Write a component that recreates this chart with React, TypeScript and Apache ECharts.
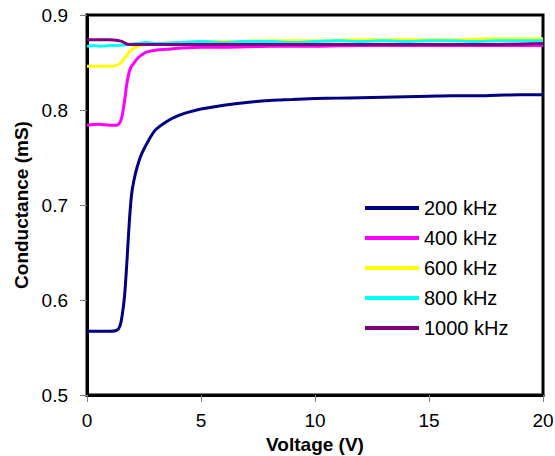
import React, { useEffect, useRef } from "react";
import * as echarts from "echarts";

const seriesNames = ["200 kHz", "400 kHz", "600 kHz", "800 kHz", "1000 kHz"];
const seriesColors = ["#000080", "#FF00FF", "#FFFF00", "#00FFFF", "#800080"];

const x200 = [0, 0.5, 1.0, 1.3, 1.45, 1.55, 1.65, 1.75, 1.85, 1.95, 2.05, 2.2, 2.4, 2.7, 3.0, 3.5, 4, 4.5, 5, 6, 7, 8, 9, 10, 11, 12, 13, 14, 15, 16, 17, 18, 19, 20];
const y200 = [0.567, 0.567, 0.567, 0.568, 0.573, 0.585, 0.605, 0.64, 0.68, 0.71, 0.725, 0.74, 0.754, 0.768, 0.779, 0.788, 0.794, 0.798, 0.801, 0.805, 0.808, 0.81, 0.811, 0.812, 0.8125, 0.813, 0.8135, 0.814, 0.8145, 0.815, 0.815, 0.8155, 0.816, 0.816];

const x400 = [0, 0.5, 1.0, 1.3, 1.45, 1.55, 1.65, 1.75, 1.85, 1.95, 2.05, 2.2, 2.4, 2.6, 3.0, 3.5, 4, 5, 6, 8, 10, 12, 14, 16, 18, 20];
const y400 = [0.784, 0.785, 0.784, 0.784, 0.787, 0.795, 0.81, 0.828, 0.84, 0.846, 0.849, 0.854, 0.858, 0.861, 0.863, 0.864, 0.865, 0.866, 0.866, 0.867, 0.867, 0.868, 0.868, 0.868, 0.868, 0.868];

const x600 = [0, 0.5, 1.0, 1.3, 1.45, 1.6, 1.75, 1.9, 2.05, 2.2, 2.5, 3, 4, 5, 6, 8, 10, 12, 14, 16, 18, 20];
const y600 = [0.846, 0.846, 0.846, 0.847, 0.849, 0.853, 0.858, 0.862, 0.865, 0.867, 0.869, 0.87, 0.871, 0.872, 0.872, 0.873, 0.873, 0.874, 0.874, 0.874, 0.875, 0.875];

const x800 = [0, 0.3, 0.6, 1.0, 1.4, 1.8, 2.2, 2.6, 3, 4, 5, 6, 7, 8, 9, 10, 11, 12, 13, 14, 15, 16, 17, 18, 19, 20];
const y800 = [0.867, 0.868, 0.867, 0.868, 0.868, 0.869, 0.87, 0.871, 0.87, 0.871, 0.872, 0.871, 0.872, 0.872, 0.871, 0.872, 0.873, 0.872, 0.873, 0.872, 0.873, 0.873, 0.872, 0.873, 0.873, 0.873];

const x1000 = [0, 0.5, 1.0, 1.4, 1.55, 1.7, 1.85, 2.2, 3, 5, 8, 10, 12, 15, 18, 20];
const y1000 = [0.874, 0.874, 0.874, 0.873, 0.872, 0.87, 0.869, 0.869, 0.869, 0.869, 0.869, 0.869, 0.869, 0.869, 0.869, 0.87];

const xs = [x200, x400, x600, x800, x1000];
const ys = [y200, y400, y600, y800, y1000];

const FONT = "'Liberation Sans', Arial, sans-serif";

export default function App() {
  const ref = useRef<HTMLDivElement>(null);
  useEffect(() => {
    if (!ref.current) return;
    const chart = echarts.init(ref.current, undefined, { renderer: "svg" });
    chart.setOption({
      animation: false,
      backgroundColor: "#ffffff",
      textStyle: { fontFamily: FONT },
      grid: {
        left: 87,
        right: 12,
        top: 15,
        bottom: 61,
        containLabel: false,
        outerBoundsMode: "none",
        show: true,
        borderColor: "#000",
        borderWidth: 3,
        backgroundColor: "#fff",
      },
      legend: {
        orient: "vertical",
        left: 360,
        top: 193,
        itemWidth: 54,
        itemHeight: 4,
        itemGap: 10,
        icon: "rect",
        data: seriesNames,
        textStyle: { fontSize: 20, color: "#000", fontFamily: FONT, lineHeight: 20 },
      },
      xAxis: {
        type: "value",
        min: 0,
        max: 20,
        interval: 5,
        name: "Voltage (V)",
        nameLocation: "middle",
        nameGap: 34,
        nameTextStyle: { fontSize: 19, fontWeight: "bold", color: "#000", fontFamily: FONT },
        axisLine: { show: true, lineStyle: { color: "#000", width: 3 } },
        axisTick: { show: true, length: 7, lineStyle: { color: "#808080", width: 1 } },
        axisLabel: { fontSize: 19, color: "#000", margin: 16, fontFamily: FONT },
        splitLine: { show: false },
      },
      yAxis: {
        type: "value",
        min: 0.5,
        max: 0.9,
        interval: 0.1,
        name: "Conductance (mS)",
        nameLocation: "middle",
        nameGap: 55,
        nameTextStyle: { fontSize: 19, fontWeight: "bold", color: "#000", fontFamily: FONT },
        axisLine: { show: true, lineStyle: { color: "#000", width: 3 } },
        axisTick: { show: true, length: 7, lineStyle: { color: "#808080", width: 1 } },
        axisLabel: {
          fontSize: 19,
          color: "#000",
          margin: 19,
          fontFamily: FONT,
          formatter: (v: number) => v.toFixed(1),
        },
        splitLine: { show: false },
      },
      series: seriesNames.map((name, i) => ({
        name,
        type: "line",
        showSymbol: false,
        symbol: "none",
        smooth: 0.3,
        color: seriesColors[i],
        lineStyle: { color: seriesColors[i], width: 3 },
        data: xs[i].map((x, j) => [x, ys[i][j]]),
      })),
    });
    return () => chart.dispose();
  }, []);
  return <div ref={ref} style={{ width: 555, height: 456, position: "absolute", left: 0, top: 0 }} />;
}
